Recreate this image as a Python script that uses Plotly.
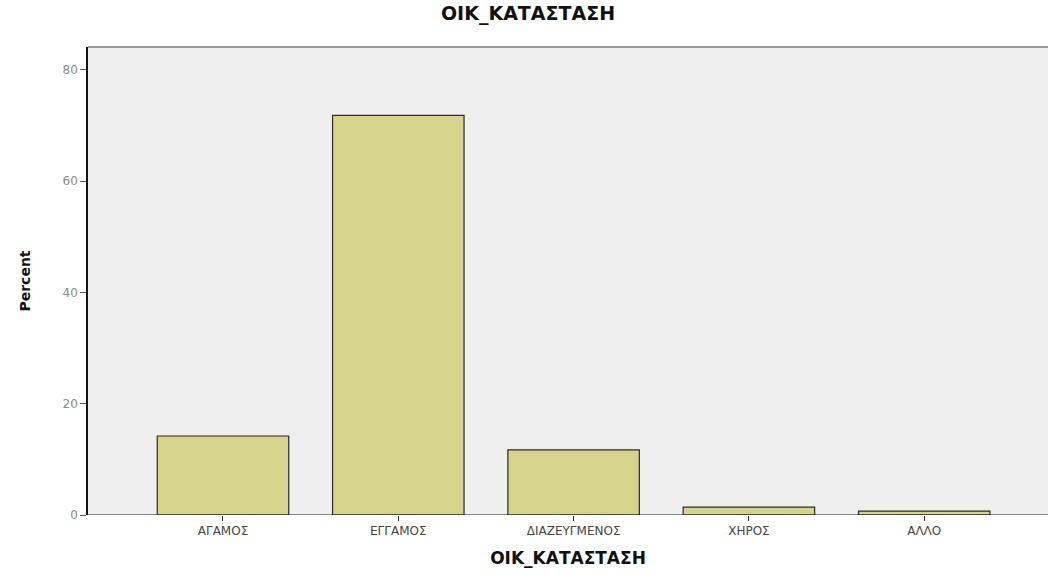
import plotly.graph_objects as go

# Marital status distribution (percent of respondents)
categories = ["ΑΓΑΜΟΣ", "ΕΓΓΑΜΟΣ", "ΔΙΑΖΕΥΓΜΕΝΟΣ", "ΧΗΡΟΣ", "ΑΛΛΟ"]
percent = [14.2, 71.8, 11.7, 1.4, 0.7]
y_ticks = [0, 20, 40, 60, 80]

fig = go.Figure(
    go.Bar(
        x=list(range(len(categories))),
        y=percent,
        width=0.75,
        marker=dict(color="#d6d48c", line=dict(color="#2b2b2b", width=1.2)),
        hoverinfo="x+y",
    )
)

fig.update_layout(
    width=1048,
    height=576,
    margin=dict(l=88, r=0, t=47, b=61),
    paper_bgcolor="white",
    plot_bgcolor="#efefef",
    showlegend=False,
    font=dict(family="DejaVu Sans, Verdana, sans-serif", color="#222"),
    title=dict(
        text="<b>ΟΙΚ_ΚΑΤΑΣΤΑΣΗ</b>",
        x=528 / 1048,
        xanchor="center",
        y=1 - 13 / 576,
        yanchor="middle",
        font=dict(size=19, color="#111"),
    ),
    xaxis=dict(
        range=[-0.77, 4.706],
        tickmode="array",
        tickvals=list(range(len(categories))),
        ticktext=categories,
        ticks="outside",
        ticklen=5,
        tickcolor="#333",
        tickfont=dict(size=12, color="#444"),
        showgrid=False,
        zeroline=False,
        showline=False,
        title=dict(text="<b>ΟΙΚ_ΚΑΤΑΣΤΑΣΗ</b>", font=dict(size=17, color="#111"), standoff=14),
    ),
    yaxis=dict(
        range=[0, 84.1],
        tickmode="array",
        tickvals=y_ticks,
        ticks="outside",
        ticklen=6,
        tickcolor="#555",
        tickfont=dict(size=12, color="#8a8a8a"),
        showgrid=False,
        zeroline=False,
        showline=True,
        linecolor="#111",
        linewidth=1.5,
        title=dict(text="<b>Percent</b>", font=dict(size=14, color="#111"), standoff=29),
    ),
    shapes=[
        # top frame line
        dict(type="line", xref="paper", yref="paper", x0=0, x1=1, y0=1, y1=1,
             line=dict(color="#9a9a9a", width=2)),
        # baseline
        dict(type="line", xref="paper", yref="y", x0=0, x1=1, y0=0, y1=0,
             line=dict(color="#222", width=1.2), layer="above"),
    ],
)

fig.write_html("out.html")
